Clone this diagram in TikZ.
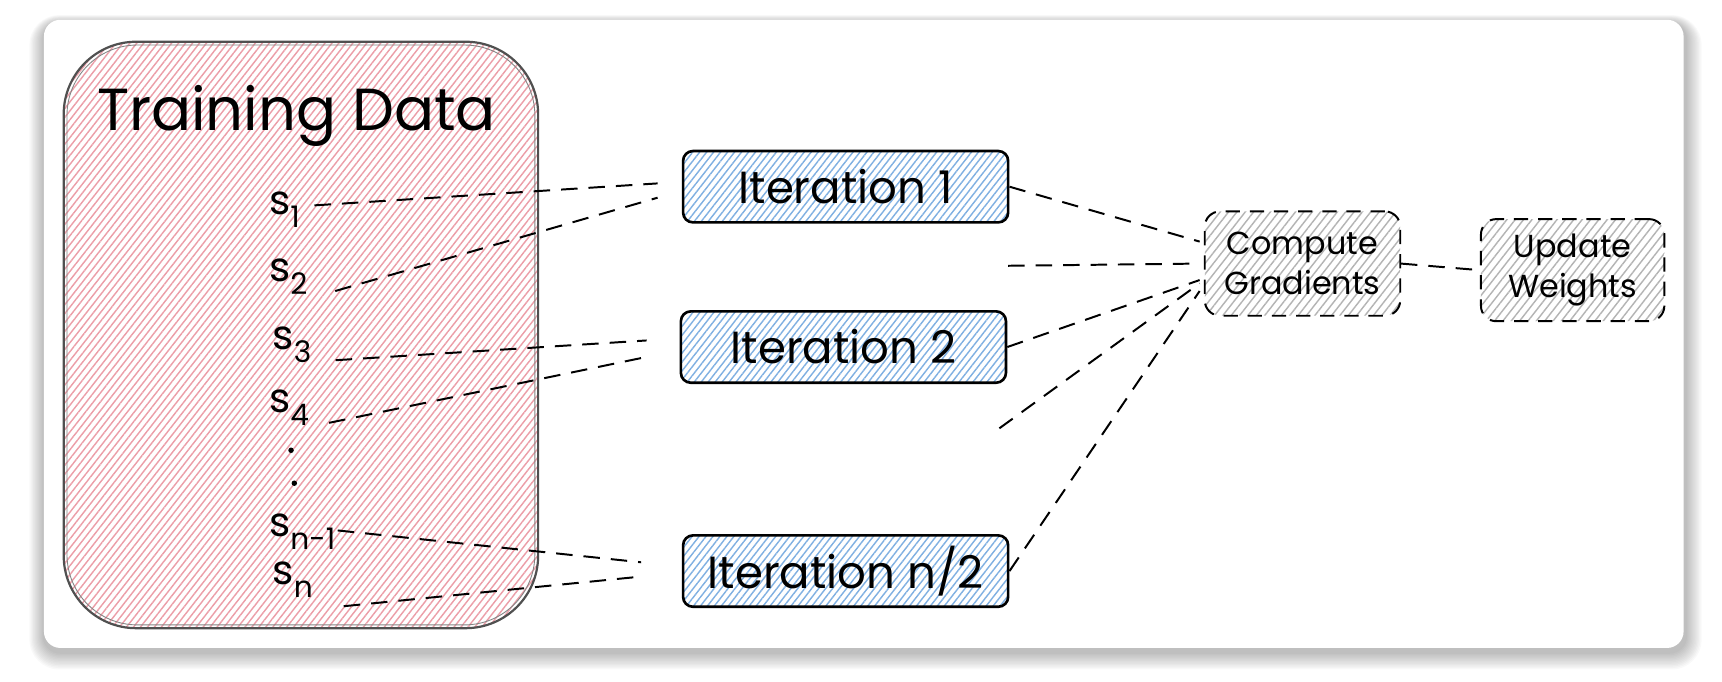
\documentclass[tikz,border=0pt]{standalone}
\usepackage{fontspec}
\setmainfont{Poppins}
\usetikzlibrary{patterns.meta,positioning}
\definecolor{datapink}{RGB}{236,158,168}
\definecolor{iterblue}{RGB}{128,176,226}
\definecolor{gradgray}{RGB}{180,180,180}
\definecolor{inkgray}{RGB}{80,80,80}
\newcommand\smp[1]{s\raisebox{-12pt}{\fontsize{27}{27}\selectfont #1}}

\begin{document}
\begin{tikzpicture}[x=1pt,y=-1pt,
  hatch/.style={pattern={Lines[angle=52,distance=#1,line width=1.3pt]}},
  iterbox/.style={draw=black,line width=2.4pt,rounded corners=9pt,
    minimum width=296pt,minimum height=65pt,hatch=5pt,pattern color=iterblue,
    font=\fontsize{41}{44}\selectfont},
  gradbox/.style={draw=black,line width=1.8pt,dash pattern=on 13pt off 9pt,
    rounded corners=14pt,hatch=6pt,pattern color=gradgray,align=center,
    font=\fontsize{29}{37}\selectfont},
  sample/.style={anchor=west,inner sep=0pt,font=\fontsize{37}{40}\selectfont},
  link/.style={line width=1.8pt,dash pattern=on 15pt off 10pt}]
\useasboundingbox (0,0) rectangle (1568,621);
% card and its shadow
\foreach \i in {1,...,12}
  \fill[black,opacity=0.025,rounded corners={(15+\i)*1pt}]
    (40-\i*1.1,21-\i*0.6) rectangle (1535+\i*1.2,594+\i*1.3);
\fill[white,rounded corners=15pt] (40,18) rectangle (1533,590);

% training data
\node[draw=inkgray,line width=2pt,rounded corners=66pt,minimum width=432pt,
  minimum height=534pt,hatch=5pt,pattern color=datapink] (data) at (274,305) {};
\draw[inkgray!70,line width=0.8pt,rounded corners=64pt] (61,41) rectangle (487,569);
\node[font=\fontsize{54}{58}\selectfont] (title) at (270,106) {Training Data};
\node[sample] (s1) at (245,191) {\smp{1}};
\node[sample] (s2) at (245,252) {\smp{2}};
\node[sample] (s3) at (248,314) {\smp{3}};
\node[sample] (s4) at (245,371) {\smp{4}};
\node[circle,fill,inner sep=0pt,minimum size=5pt] (dot1) at (265,410) {};
\node[circle,fill,inner sep=0pt,minimum size=5pt] (dot2) at (268,440) {};
\node[sample] (sn1) at (245,484) {\smp{n-1}};
\node[sample] (sn) at (248,528) {\smp{n}};

% iterations
\node[iterbox] (it1) at (770,170) {Iteration 1};
\node[iterbox] (it2) at (768,316) {Iteration 2};
\node[iterbox] (itn) at (770,520) {Iteration n/2};
\coordinate (it3) at (918,242);
\coordinate (it4) at (910,390);

\node[gradbox,minimum width=178pt,minimum height=95pt] (grad) at (1186,240) {Compute\\Gradients};
\node[gradbox,minimum width=167pt,minimum height=93pt] (upd) at (1432,246) {Update\\Weights};

\draw[link] ([xshift=13pt,yshift=4pt]s1.east) -- ([xshift=-22pt,yshift=3pt]it1.west);
\draw[link] ([xshift=25pt,yshift=-13pt]s2.east) -- ([xshift=-22pt,yshift=-10pt]it1.west);
\draw[link] ([xshift=22pt,yshift=-14pt]s3.east) -- ([xshift=-30pt,yshift=6pt]it2.west);
\draw[link] ([xshift=18pt,yshift=-14pt]s4.east) -- ([xshift=-30pt,yshift=-9pt]it2.west);
\draw[link] ([xshift=2pt,yshift=1pt]sn1.east) -- ([xshift=-37pt,yshift=8pt]itn.west);
\draw[link] ([xshift=28pt,yshift=-24pt]sn.east) -- ([xshift=-37pt,yshift=-5pt]itn.west);

\draw[link] (it1.east) -- ([xshift=-4pt,yshift=20pt]grad.west);
\draw[link] (it3) -- ([xshift=-4pt]grad.west);
\draw[link] (it2.east) -- ([xshift=-4pt,yshift=-15pt]grad.west);
\draw[link] (it4) -- ([xshift=-4pt,yshift=-18pt]grad.west);
\draw[link] (itn.east) -- ([xshift=-4pt,yshift=-25pt]grad.west);
\draw[link] (grad.east) -- (upd.west);
\end{tikzpicture}
\end{document}
